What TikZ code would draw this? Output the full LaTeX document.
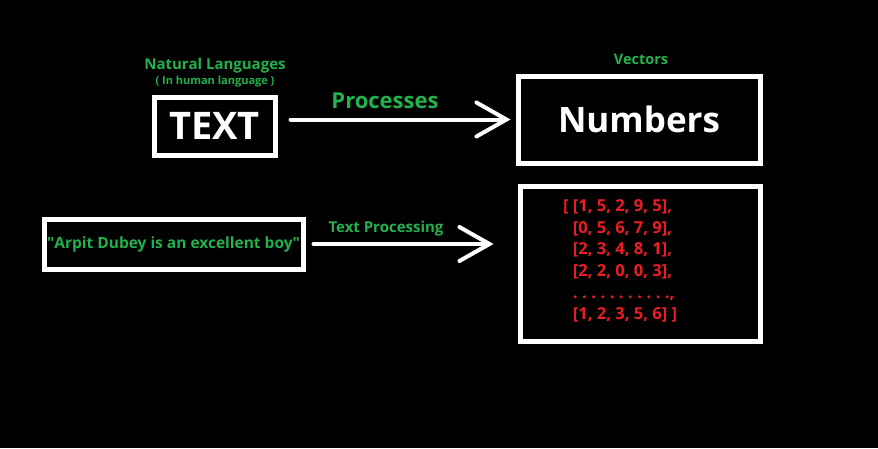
\documentclass[tikz,border=0pt]{standalone}
\usepackage{fontspec}
\setmainfont{Open Sans}
\usetikzlibrary{arrows.meta}
\definecolor{paintgreen}{RGB}{34,177,76}
\definecolor{paintred}{RGB}{237,28,36}
\newcommand{\dotrow}{.\hspace{4.5pt}.\hspace{4.5pt}.\hspace{4.5pt}.\hspace{4.5pt}.\hspace{4.5pt}.\hspace{4.5pt}.\hspace{4.5pt}.\hspace{4.5pt}.\hspace{4.5pt}.\hspace{4.5pt}.,}
\tikzset{
  box/.style={draw=white, line width=5pt, inner sep=0pt},
  lbl/.style={text=paintgreen, font=\bfseries, inner sep=0pt},
  flow/.style={white, line width=4pt, line cap=round,
    -{Straight Barb[length=30pt,width=34pt,line cap=round]}}
}
\begin{document}
\begin{tikzpicture}[x=1pt,y=-1pt]
  \fill[black] (0,0) rectangle (878,448);
  \useasboundingbox (0,0) rectangle (878,448);
  % top row
  \node[box, minimum width=121pt, minimum height=58pt, text=white, font=\bfseries\fontsize{38}{38}\selectfont] (text) at (214.5,126) {TEXT};
  \node[box, minimum width=242pt, minimum height=87pt, text=white, font=\bfseries\fontsize{35}{35}\selectfont] (numbers) at (639,119.5) {Numbers};
  \node[lbl, font=\bfseries\fontsize{15}{15}\selectfont] (natlang) at (215,66) {Natural Languages};
  \node[lbl, font=\bfseries\fontsize{11}{11}\selectfont] (human) at (215,82) {( In human language )};
  \node[lbl, font=\bfseries\fontsize{14.5}{14.5}\selectfont] (vectors) at (641,59) {Vectors};
  \node[lbl, font=\bfseries\fontsize{22}{22}\selectfont] (processes) at (385,101) {Processes};
  \draw[flow, shorten <=13pt, shorten >=5pt] (text.east |- numbers.west) -- (numbers.west);
  % bottom row
  \node[box, minimum width=259pt, minimum height=50pt, font=\bfseries\fontsize{15.5}{15.5}\selectfont, text=paintgreen] (sentence) at (173.5,244) {\textquotedbl Arpit Dubey is an excellent boy\textquotedbl};
  \node[box, minimum width=240pt, minimum height=155pt] (matrix) at (640,263.5) {};
  \node[lbl, font=\bfseries\fontsize{15}{15}\selectfont] (textproc) at (386,229) {Text Processing};
  \node[text=paintred, font=\bfseries\fontsize{16.5}{21.6}\selectfont, align=left, inner sep=0pt, anchor=west] (mat) at (563,261) {%
    [ [1, 5, 2, 9, 5],\\
    \phantom{[ }[0, 5, 6, 7, 9],\\
    \phantom{[ }[2, 3, 4, 8, 1],\\
    \phantom{[ }[2, 2, 0, 0, 3],\\
    \phantom{[ }\dotrow\\
    \phantom{[ }[1, 2, 3, 5, 6] ]};
  \draw[flow, shorten <=8pt, shorten >=24pt] (sentence.east) -- (sentence.east -| matrix.west);
\end{tikzpicture}
\end{document}
